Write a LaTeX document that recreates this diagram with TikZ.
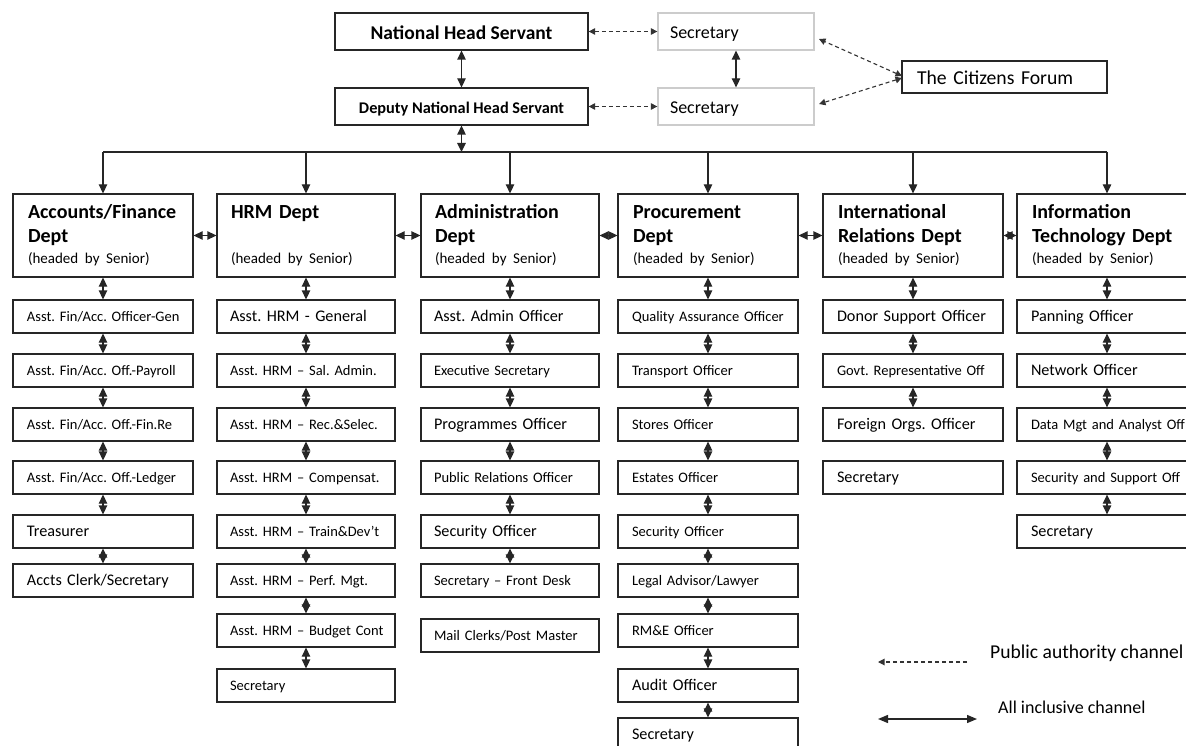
\documentclass[tikz,border=0pt]{standalone}
\usepackage{fontspec}
\setmainfont{Carlito}
\usetikzlibrary{arrows.meta,calc}
\begin{document}
\frenchspacing
\begin{tikzpicture}[x=1pt,y=-1pt,
  frame/.style={draw=black!85, line width=1.3pt, rectangle, inner ysep=0pt},
  top/.style={frame, minimum width=253pt, minimum height=37pt, text depth=0pt},
  secbox/.style={frame, draw=black!20, minimum width=156pt, minimum height=37pt,
    text width=132pt, inner xsep=12pt, align=left, text height=15pt, text depth=0pt,
    font=\fontsize{18}{22}\selectfont},
  dept/.style={frame, minimum height=83pt, text width=150pt, inner xsep=14pt,
    align=left, font=\bfseries\fontsize{20}{24}\selectfont},
  sub/.style={frame, minimum height=33pt, text width=152pt, inner xsep=13pt,
    align=left, text height=11.5pt, text depth=1pt},
  sbig/.style={sub, font=\fontsize{16.2}{19}\selectfont},
  ssml/.style={sub, font=\fontsize{14.5}{17}\selectfont},
  wire/.style={draw=black!85, line width=1.3pt},
  link/.style={wire, arrows={Triangle[length=9pt,width=8.5pt]-Triangle[length=9pt,width=8.5pt]}},
  drop/.style={wire, arrows={-Triangle[length=9pt,width=8.5pt]}},
  pub/.style={draw=black!80, line width=1.1pt, dash pattern=on 4pt off 3pt,
    arrows={Triangle[length=6.5pt,width=6.5pt]-Triangle[length=6.5pt,width=6.5pt]}}
]
\fill[white] (0,0) rectangle (1186,746);
\clip (0,0) rectangle (1186,746);

% ---- top of the hierarchy ----
\node[top, text height=15.6pt, font=\bfseries\fontsize{19.5}{23}\selectfont] (nhs) at (461.5,31.5) {National Head Servant};
\node[top, text height=13.6pt, font=\bfseries\fontsize{16.3}{20}\selectfont] (dep) at (461.5,106.5) {Deputy National Head Servant};
\node[secbox] (sec1) at (736,31.5) {Secretary};
\node[secbox] (sec2) at (736,106.5) {Secretary};
\node[frame, minimum width=205pt, minimum height=32pt, text width=175pt, inner xsep=15pt,
  align=left, text height=16pt, text depth=0pt,
  font=\fontsize{19.7}{23}\selectfont] (cit) at (1004.5,77) {The Citizens Forum};

\coordinate (cf1) at (819,39);
\coordinate (cf2) at (819,104);
\coordinate (cfa) at (902,76);
\coordinate (cfb) at (902,78);

\draw[pub] (nhs) -- (sec1);
\draw[pub] (dep) -- (sec2);
\draw[link] (nhs) -- (dep);
\draw[link] (sec1) -- (sec2);
\draw[pub] (cfa) -- (cf1);
\draw[pub] (cfb) -- (cf2);

% ---- departments ----
\node[dept, minimum width=180pt] (acc) at (103,235.5)
  {Accounts/Finance\\Dept\\[-3pt]{\mdseries\fontsize{15}{18}\selectfont (headed by Senior)}};
\node[dept, minimum width=178pt] (hrm) at (306,235.5)
  {HRM Dept\\\strut\\[-3pt]{\mdseries\fontsize{15}{18}\selectfont (headed by Senior)}};
\node[dept, minimum width=178pt] (adm) at (510,235.5)
  {Administration\\Dept\\[-3pt]{\mdseries\fontsize{15}{18}\selectfont (headed by Senior)}};
\node[dept, minimum width=180pt] (pro) at (708,235.5)
  {Procurement\\Dept\\[-3pt]{\mdseries\fontsize{15}{18}\selectfont (headed by Senior)}};
\node[dept, minimum width=180pt] (int) at (913,235.5)
  {International\\Relations Dept\\[-3pt]{\mdseries\fontsize{15}{18}\selectfont (headed by Senior)}};
\node[dept, minimum width=180pt] (itd) at (1107,235.5)
  {Information\\Technology Dept\\[-3pt]{\mdseries\fontsize{15}{18}\selectfont (headed by Senior)}};

\coordinate (bar) at (463,152);
\draw[link] (dep.south) -- (dep.south |- bar);
\draw[wire] (acc |- bar) -- (itd |- bar);
\foreach \n in {acc,hrm,adm,pro,int,itd}
  \draw[drop] (\n |- bar) -- (\n);
\foreach \u/\v in {acc/hrm,hrm/adm,adm/pro,pro/int,int/itd}
  \draw[link] (\u) -- (\v);

% ---- Accounts/Finance staff ----
\begin{scope}[every node/.append style={minimum width=180pt}]
\node[ssml] (a1) at (103,316.5) {\mbox{Asst. Fin/Acc. Officer-Gen}};
\node[ssml] (a2) at (103,370.5) {\mbox{Asst. Fin/Acc. Off.-Payroll}};
\node[ssml] (a3) at (103,424.5) {\mbox{Asst. Fin/Acc. Off.-Fin.Re}};
\node[ssml] (a4) at (103,477.5) {\mbox{Asst. Fin/Acc. Off.-Ledger}};
\node[sbig] (a5) at (103,531.5) {Treasurer};
\node[sbig] (a6) at (103,580.5) {\mbox{Accts Clerk/Secretary}};
\end{scope}

% ---- HRM staff ----
\begin{scope}[every node/.append style={minimum width=178pt}]
\node[sbig] (h1) at (306,316.5) {\mbox{Asst. HRM - General}};
\node[ssml] (h2) at (306,370.5) {\mbox{Asst. HRM – Sal. Admin.}};
\node[ssml] (h3) at (306,424.5) {\mbox{Asst. HRM – Rec.\&Selec.}};
\node[ssml] (h4) at (306,477.5) {\mbox{Asst. HRM – Compensat.}};
\node[ssml] (h5) at (306,531.5) {\mbox{Asst. HRM – Train\&Dev’t}};
\node[ssml] (h6) at (306,580.5) {\mbox{Asst. HRM – Perf. Mgt.}};
\node[ssml] (h7) at (306,630.5) {\mbox{Asst. HRM – Budget Cont}};
\node[ssml] (h8) at (306,685.5) {Secretary};
\end{scope}

% ---- Administration staff ----
\begin{scope}[every node/.append style={minimum width=178pt}]
\node[sbig] (d1) at (510,316.5) {\mbox{Asst. Admin Officer}};
\node[ssml] (d2) at (510,370.5) {\mbox{Executive Secretary}};
\node[sbig] (d3) at (510,424.5) {\mbox{Programmes Officer}};
\node[ssml] (d4) at (510,477.5) {\mbox{Public Relations Officer}};
\node[sbig] (d5) at (510,531.5) {\mbox{Security Officer}};
\node[ssml] (d6) at (510,580.5) {\mbox{Secretary – Front Desk}};
\node[ssml] (d7) at (510,635.5) {\mbox{Mail Clerks/Post Master}};
\end{scope}

% ---- Procurement staff ----
\begin{scope}[every node/.append style={minimum width=180pt}]
\node[ssml] (p1) at (708,316.5) {\mbox{Quality Assurance Officer}};
\node[ssml] (p2) at (708,370.5) {\mbox{Transport Officer}};
\node[ssml] (p3) at (708,424.5) {\mbox{Stores Officer}};
\node[ssml] (p4) at (708,477.5) {\mbox{Estates Officer}};
\node[ssml] (p5) at (708,531.5) {\mbox{Security Officer}};
\node[ssml] (p6) at (708,580.5) {\mbox{Legal Advisor/Lawyer}};
\node[ssml] (p7) at (708,630.5) {\mbox{RM\&E Officer}};
\node[sbig] (p8) at (708,685.5) {\mbox{Audit Officer}};
\node[sbig] (p9) at (708,734.5) {Secretary};
\end{scope}

% ---- International Relations staff ----
\begin{scope}[every node/.append style={minimum width=180pt}]
\node[sbig] (i1) at (913,316.5) {\mbox{Donor Support Officer}};
\node[ssml] (i2) at (913,370.5) {\mbox{Govt. Representative Off}};
\node[sbig] (i3) at (913,424.5) {\mbox{Foreign Orgs. Officer}};
\node[sbig] (i4) at (913,477.5) {Secretary};
\end{scope}

% ---- Information Technology staff ----
\begin{scope}[every node/.append style={minimum width=180pt}]
\node[sbig] (t1) at (1107,316.5) {\mbox{Panning Officer}};
\node[sbig] (t2) at (1107,370.5) {\mbox{Network Officer}};
\node[ssml] (t3) at (1107,424.5) {\mbox{Data Mgt and Analyst Off}};
\node[ssml] (t4) at (1107,477.5) {\mbox{Security and Support Off}};
\node[sbig] (t5) at (1107,531.5) {Secretary};
\end{scope}

% ---- reporting lines ----
\foreach \u/\v in {acc/a1,a1/a2,a2/a3,a3/a4,a4/a5,a5/a6,
                   hrm/h1,h1/h2,h2/h3,h3/h4,h4/h5,h5/h6,h6/h7,h7/h8,
                   adm/d1,d1/d2,d2/d3,d3/d4,d4/d5,d5/d6,
                   pro/p1,p1/p2,p2/p3,p3/p4,p4/p5,p5/p6,p6/p7,p7/p8,p8/p9,
                   int/i1,i1/i2,i2/i3,
                   itd/t1,t1/t2,t2/t3,t3/t4,t4/t5}
  \draw[link] (\u) -- (\v);

% ---- key ----
\coordinate (k1a) at (967,662);
\coordinate (k1b) at (878,662);
\draw[pub, arrows={-Triangle[length=6.5pt,width=6.5pt]}] (k1a) -- (k1b);
\node[anchor=base west, inner sep=0pt, font=\fontsize{19.6}{23}\selectfont] (k1t) at (990,658) {Public authority channel};
\coordinate (k2a) at (878,719);
\coordinate (k2b) at (977,719);
\draw[wire, arrows={Triangle[length=10pt,width=8pt]-Triangle[length=10pt,width=8pt]}] (k2a) -- (k2b);
\node[anchor=base west, inner sep=0pt, font=\fontsize{18}{22}\selectfont] (k2t) at (998,713) {All inclusive channel};
\end{tikzpicture}
\end{document}
